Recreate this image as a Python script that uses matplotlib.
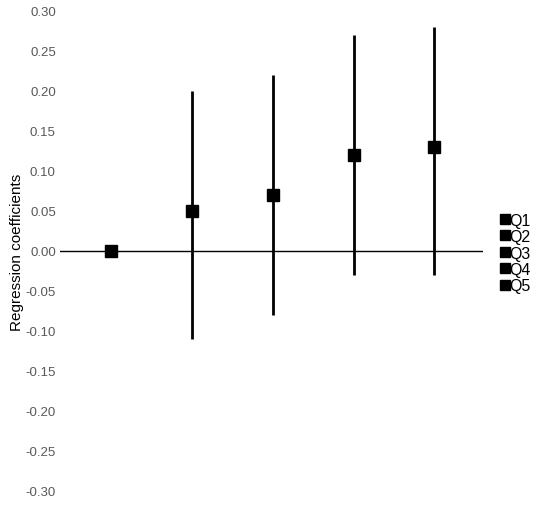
import numpy as np
import matplotlib
matplotlib.use("Agg")
import matplotlib.pyplot as plt

plt.rcParams['font.family'] = ['Liberation Sans', 'DejaVu Sans']

# data
groups = ["Q1", "Q2", "Q3", "Q4", "Q5"]
coef = [0.00, 0.05, 0.07, 0.12, 0.13]
lower = [0.00, -0.11, -0.08, -0.03, -0.03]
upper = [0.00, 0.20, 0.22, 0.27, 0.28]
yticks = [0.30, 0.25, 0.20, 0.15, 0.10, 0.05, 0.00, -0.05, -0.10, -0.15, -0.20, -0.25, -0.30]

fig = plt.figure(figsize=(5.5, 5.06), dpi=100)
ax = fig.add_axes([0.109, 0.0277, 0.769, 0.9486])

ax.axhline(0, color='black', lw=1, zorder=1)

for i, g in enumerate(groups):
    x = i + 1
    if upper[i] != lower[i]:
        ax.vlines(x, lower[i], upper[i], color='black', lw=2, zorder=2)
    ax.plot([x], [coef[i]], marker='s', ms=8.5, color='black', ls='none',
            label=g, zorder=3)

ax.set_xlim(0.37, 5.6)
ax.set_ylim(-0.30, 0.30)
ax.set_yticks(yticks)
ax.set_yticklabels([f"{v:.2f}" for v in yticks])
ax.set_xticks([])
ax.tick_params(axis='y', length=0, pad=3, labelsize=9.5, labelcolor='#595959')
for s in ax.spines.values():
    s.set_visible(False)

ax.set_ylabel("Regression coefficients", fontsize=11, labelpad=1)

fig.legend(loc='center left', bbox_to_anchor=(0.912, 0.498), frameon=False,
           fontsize=11.5, handlelength=0.4, handletextpad=0.1,
           labelspacing=0.09, borderaxespad=0, borderpad=0, markerscale=0.8)

fig.savefig("out.png", dpi=100)
